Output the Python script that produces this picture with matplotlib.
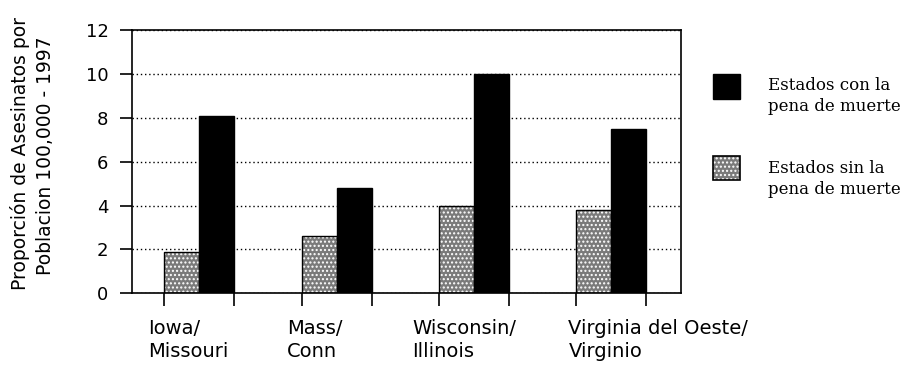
import matplotlib.pyplot as plt
import numpy as np
from matplotlib.patches import Rectangle

# data
groups = ['Iowa/\nMissouri', 'Mass/\nConn', 'Wisconsin/\nIllinois', 'Virginia del Oeste/\nVirginio']
sin_pena = [1.9, 2.6, 4.0, 3.8]
con_pena = [8.1, 4.8, 10.0, 7.5]
legend_labels = ['Estados con la\npena de muerte', 'Estados sin la\npena de muerte']

W, H = 919, 365
fig = plt.figure(figsize=(W / 100, H / 100), dpi=100)
fig.patch.set_facecolor('white')

# axes box in pixels: left 132, right 681, top 30, bottom 293
ax = fig.add_axes([132 / W, 1 - 293.3 / H, (681 - 132) / W, (293.3 - 30) / H])

x = np.arange(len(groups))
width = 0.255
gray = '#7a7a7a'

# dotted gray bars (hatch drawn in white, outline drawn separately)
ax.bar(x - width / 2, sin_pena, width, color=gray, edgecolor='white',
       hatch='....', linewidth=0, zorder=2)
ax.bar(x - width / 2, sin_pena, width, fill=False, edgecolor='black',
       linewidth=1, zorder=3)
ax.bar(x + width / 2, con_pena, width, color='black', edgecolor='black',
       linewidth=1, zorder=3)

ax.set_xlim(-0.49, 3.51)
ax.set_ylim(0, 12)
ax.set_yticks(range(0, 13, 2))
ax.yaxis.grid(True, color='black', linestyle=(0, (1, 2)), linewidth=1, zorder=1)
ax.set_axisbelow(True)
for s in ax.spines.values():
    s.set_linewidth(1.2)
    s.set_color('black')

# x ticks at the outer bar edges, labels placed as text
edges = np.concatenate([x - width, x + width])
ax.set_xticks(np.sort(edges))
ax.set_xticklabels([])
ax.tick_params(axis='both', direction='out', length=9, width=1.2, color='black')
ax.tick_params(axis='y', labelsize=13, pad=8)

label_off = [-0.37, -0.36, -0.45, -0.31]
for xi, lab, off in zip(x, groups, label_off):
    ax.text(xi + off, -1.15, lab, ha='left', va='top', fontsize=14,
            linespacing=1.3, transform=ax.transData, clip_on=False)

# y label (two lines)
fig.text(20 / W, 1 - 154 / H, 'Proporción de Asesinatos por', rotation=90,
         ha='center', va='center', fontsize=13.5)
fig.text(46 / W, 1 - 156 / H, 'Poblacion 100,000 - 1997', rotation=90,
         ha='center', va='center', fontsize=13.5)

# legend drawn by hand to the right of the axes
fig.add_artist(Rectangle((713 / W, 1 - 99 / H), 27 / W, 25 / H,
                         transform=fig.transFigure, facecolor='black',
                         edgecolor='black'))
fig.add_artist(Rectangle((713 / W, 1 - 180 / H), 27 / W, 24 / H,
                         transform=fig.transFigure, facecolor=gray,
                         edgecolor='white', hatch='....', linewidth=0))
fig.add_artist(Rectangle((713 / W, 1 - 180 / H), 27 / W, 24 / H,
                         transform=fig.transFigure, fill=False,
                         edgecolor='black', linewidth=1.2))
fig.text(768 / W, 1 - 96 / H, legend_labels[0], ha='left', va='center',
         fontsize=12, family='DejaVu Serif', linespacing=1.35)
fig.text(768 / W, 1 - 179 / H, legend_labels[1], ha='left', va='center',
         fontsize=12, family='DejaVu Serif', linespacing=1.35)

fig.savefig('out.png', dpi=100)
